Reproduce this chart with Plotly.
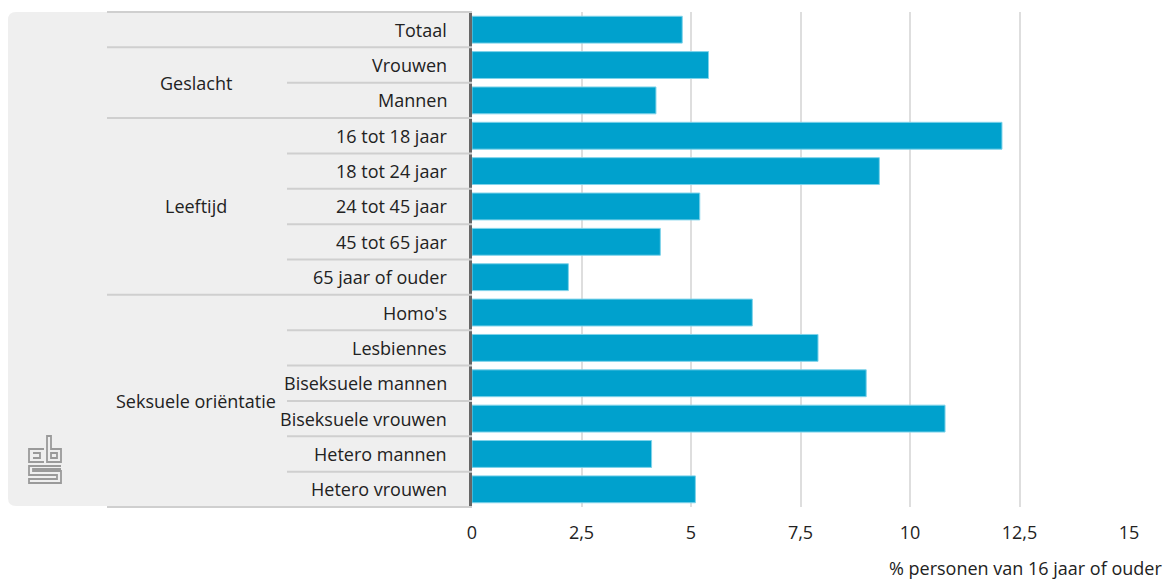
import plotly.graph_objects as go

categories = ["Totaal", "Vrouwen", "Mannen", "16 tot 18 jaar", "18 tot 24 jaar",
              "24 tot 45 jaar", "45 tot 65 jaar", "65 jaar of ouder", "Homo's",
              "Lesbiennes", "Biseksuele mannen", "Biseksuele vrouwen",
              "Hetero mannen", "Hetero vrouwen"]
values = [4.8, 5.4, 4.2, 12.1, 9.3, 5.2, 4.3, 2.2, 6.4, 7.9, 9.0, 10.8, 4.1, 5.1]
groups = [("Geslacht", 1, 2), ("Leeftijd", 3, 7), ("Seksuele oriëntatie", 8, 13)]
group_starts = [1, 3, 8]
tick_vals = [0, 2.5, 5, 7.5, 10, 12.5, 15]
tick_text = ["0", "2,5", "5", "7,5", "10", "12,5", "15"]
x_title = "% personen van 16 jaar of ouder"

W, H = 1168, 579
ML, MR, MT, MB = 472, 39, 12, 72
PW, PH = W - ML - MR, H - MT - MB
FONT = "Open Sans"
FS = 18
N = len(categories)


def px(x):
    return (x - ML) / PW


def py(y):
    return 1 - (y - MT) / PH


def row_y(k):
    return 1 - k / N


fig = go.Figure(go.Bar(
    x=values, y=categories, orientation="h",
    marker=dict(color="#00a1cd", line=dict(color="#7fd3ea", width=1)),
    hoverinfo="x+y",
))

shapes = []
# grey panel with rounded left corners
x0, x1, y0, y1, r = px(8), px(472), py(12), py(506), 8
rx, ry = r / PW, r / PH
path = (f"M {x1},{y0} L {x0+rx},{y0} Q {x0},{y0} {x0},{y0-ry} "
        f"L {x0},{y1+ry} Q {x0},{y1} {x0+rx},{y1} L {x1},{y1} Z")
shapes.append(dict(type="path", xref="paper", yref="paper", path=path,
                   fillcolor="#efefef", line=dict(width=0), layer="below"))

# separators
for k in range(N + 1):
    full = k in (0, N) or k in group_starts or k == 1
    xs = px(107) if full else px(287)
    shapes.append(dict(type="line", xref="paper", yref="paper",
                       x0=xs, x1=0, y0=row_y(k), y1=row_y(k),
                       line=dict(color="#cfcfcf", width=2)))

# cbs logo (decoration)
logo_paths = [
    "M 44,449 L 29,449 L 29,462 L 44,462",
    "M 33,453 L 40,453 L 40,458 L 33,458",
    "M 47,436 L 47,462 L 61,462 L 61,449 L 51,449 L 51,436 Z",
    "M 51,453 L 57,453 L 57,458 L 51,458 Z",
    "M 61,466 L 29,466 L 29,475 L 57,475 L 57,479 L 29,479 L 29,483 L 61,483 L 61,471 L 33,471 L 33,469 L 61,469",
]
for p in logo_paths:
    toks = p.split()
    out = []
    for t in toks:
        if "," in t:
            a, b = t.split(",")
            out.append(f"{px(float(a)):.5f},{py(float(b)):.5f}")
        else:
            out.append(t)
    shapes.append(dict(type="path", xref="paper", yref="paper", path=" ".join(out),
                       line=dict(color="#9a9a9a", width=1.8)))

annotations = []
for c in categories:
    annotations.append(dict(xref="paper", yref="y", x=px(449), y=c, text=c,
                            xanchor="right", yanchor="middle", showarrow=False,
                            font=dict(family=FONT, size=FS, color="#222")))
for name, a, b in groups:
    yc = 1 - ((a + b + 1) / 2) / N
    annotations.append(dict(xref="paper", yref="paper", x=px(196), y=yc, text=name,
                            xanchor="center", yanchor="middle", showarrow=False,
                            font=dict(family=FONT, size=FS, color="#222")))
annotations.append(dict(xref="paper", yref="paper", x=px(1164), y=py(568), text=x_title,
                        xanchor="right", yanchor="middle", showarrow=False,
                        font=dict(family=FONT, size=FS, color="#222")))

fig.update_layout(
    width=W, height=H, margin=dict(l=ML, r=MR, t=MT, b=MB),
    paper_bgcolor="white", plot_bgcolor="white",
    showlegend=False, bargap=0.24,
    shapes=shapes, annotations=annotations,
    font=dict(family=FONT, size=FS, color="#222"),
    xaxis=dict(range=[0, 15], tickvals=tick_vals, ticktext=tick_text,
               showgrid=True, gridcolor="#dedede", gridwidth=2, zeroline=False,
               showline=False, ticks="", ticklabelstandoff=13,
               tickfont=dict(family=FONT, size=FS, color="#222")),
    yaxis=dict(autorange="reversed", showticklabels=False, showgrid=False,
               showline=True, linecolor="#666", linewidth=3, ticks="",
               zeroline=False),
)

fig.write_html("out.html", config={"displayModeBar": False},
               post_script="document.body.style.margin='0';document.body.style.overflow='hidden';")
